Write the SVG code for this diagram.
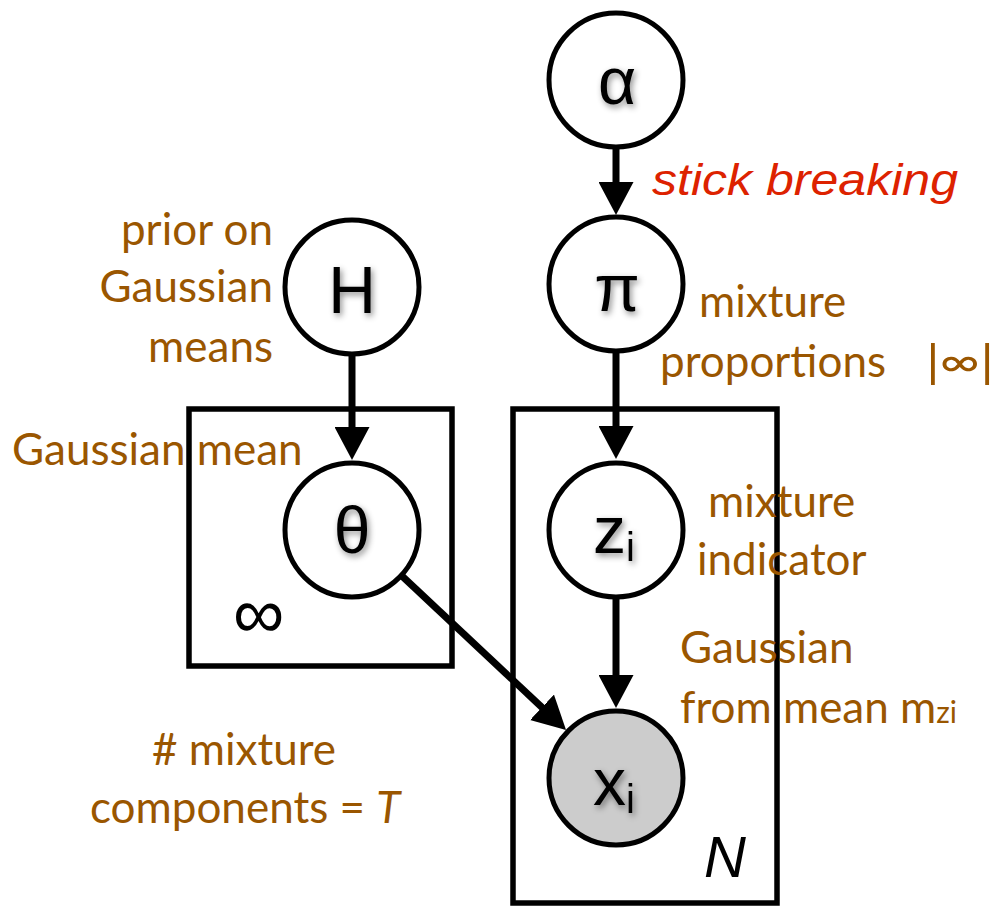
<svg xmlns="http://www.w3.org/2000/svg" width="998" height="907" viewBox="0 0 998 907">
  <defs>
    <marker id="head" viewBox="0 0 33 35" refX="4" refY="17.5" markerWidth="33" markerHeight="35" markerUnits="userSpaceOnUse" orient="auto">
      <path d="M0,0 L33,17.5 L0,35 z" fill="#000"/>
    </marker>
    <filter id="glow" x="-50%" y="-50%" width="200%" height="200%">
      <feDropShadow dx="2" dy="3" stdDeviation="3" flood-color="#000" flood-opacity="0.45"/>
    </filter>
  </defs>
  <style>
    .node { fill: #fff; stroke: #000; stroke-width: 5; }
    .obs { fill: #cccccc; }
    .plate { fill: none; stroke: #000; stroke-width: 5.5; }
    .sym { font-family: "Liberation Sans", Arial, sans-serif; font-size: 66px; fill: #000; text-anchor: middle; filter: url(#glow); }
    .sub { font-size: 40px; }
    .note { font-family: Lato, "Open Sans", sans-serif; font-size: 44px; fill: #9a5600; }
    .edge { stroke: #000; stroke-width: 7; fill: none; marker-end: url(#head); }
  </style>

  <!-- plates -->
  <g id="plate-components">
    <rect class="plate" x="189" y="409" width="263" height="257"/>
    <text x="258" y="638" font-family="'Liberation Sans', Arial, sans-serif" font-size="72" font-style="italic" fill="#000" text-anchor="middle">∞</text>
  </g>
  <g id="plate-data">
    <rect class="plate" x="513" y="409" width="264" height="494"/>
    <text x="725" y="877" font-family="'Liberation Sans', Arial, sans-serif" font-size="58" font-style="italic" fill="#000" text-anchor="middle">N</text>
  </g>

  <!-- connectors -->
  <g id="edges">
    <line class="edge" x1="616" y1="148" x2="616" y2="186"/>
    <line class="edge" x1="616" y1="351" x2="616" y2="430"/>
    <line class="edge" x1="352" y1="355" x2="352" y2="431"/>
    <line class="edge" x1="616" y1="597" x2="616" y2="679"/>
    <line class="edge" x1="401.6" y1="575.6" x2="544.9" y2="710.1"/>
  </g>

  <!-- nodes -->
  <g id="node-alpha">
    <circle class="node" cx="616" cy="80" r="67"/>
    <text class="sym" x="617" y="104">α</text>
  </g>
  <g id="node-pi">
    <circle class="node" cx="616" cy="284" r="67"/>
    <text class="sym" x="617" y="311">π</text>
  </g>
  <g id="node-H">
    <circle class="node" cx="352" cy="287" r="67"/>
    <text class="sym" x="352" y="313">H</text>
  </g>
  <g id="node-theta">
    <circle class="node" cx="352" cy="530" r="67"/>
    <text class="sym" x="352" y="553">θ</text>
  </g>
  <g id="node-z">
    <circle class="node" cx="616" cy="530" r="67"/>
    <text class="sym" x="614" y="553">z<tspan class="sub" dy="8">i</tspan></text>
  </g>
  <g id="node-x">
    <circle class="node obs" cx="616" cy="778" r="67"/>
    <text class="sym" x="614" y="805">x<tspan class="sub" dy="8">i</tspan></text>
  </g>

  <!-- annotations -->
  <g id="annotations">
    <text x="652" y="195" font-family="'Liberation Sans', Arial, sans-serif" font-size="44" font-style="italic" fill="#dd2200" textLength="306" lengthAdjust="spacingAndGlyphs">stick breaking</text>
    <text class="note" x="273" y="245" text-anchor="end">prior on</text>
    <text class="note" x="273" y="302" text-anchor="end">Gaussian</text>
    <text class="note" x="273" y="362" text-anchor="end">means</text>
    <text class="note" x="12" y="465">Gaussian mean</text>
    <text class="note" x="699" y="317">mixture</text>
    <text class="note" x="660" y="377">proportions</text>
    <text class="note" x="926" y="377" font-size="52" textLength="68" lengthAdjust="spacingAndGlyphs">|∞|</text>
    <text class="note" x="708" y="517">mixture</text>
    <text class="note" x="697" y="575">indicator</text>
    <text class="note" x="680" y="663">Gaussian</text>
    <text class="note" x="680" y="723">from mean m<tspan font-size="30">zi</tspan></text>
    <text class="note" x="152" y="765"># mixture</text>
    <text class="note" x="90" y="823">components = <tspan font-style="italic">T</tspan></text>
  </g>
</svg>
